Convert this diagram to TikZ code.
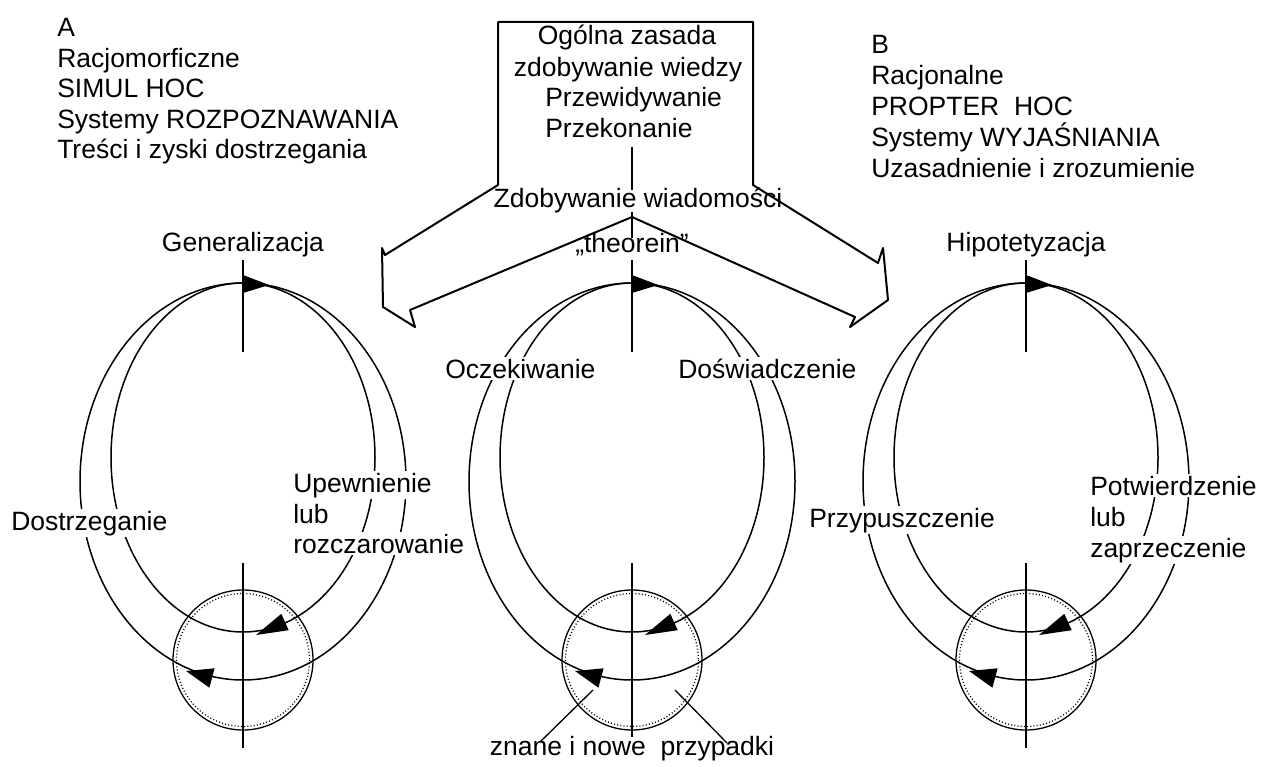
\documentclass[tikz,border=0pt]{standalone}
\usepackage{fontspec}
\setmainfont{Liberation Sans}
\begin{document}
\begin{tikzpicture}[x=1pt,y=-1pt,line width=1.5pt,
  lbl/.style={font=\fontsize{26.5}{31}\selectfont,inner sep=1.5pt},
  wlbl/.style={lbl,fill=white},
  loopline/.style={line width=1.5pt},
  ring/.style={line width=1.3pt},
  ringdots/.style={line width=1.3pt,dash pattern=on 1pt off 2.2pt},
  bigarrow/.style={line width=2pt,line join=round}]
\useasboundingbox (0,0) rectangle (1263,767);

% cycles
\foreach \ax/\ab/\nm in {243/748/L,632/737/C,1026/748/R}{
  \begin{scope}[shift={(\ax,0)}]
    \draw[loopline] (0,457.5) ellipse [x radius=132,y radius=174.5];
    \draw[loopline] (0,481.5) ellipse [x radius=163,y radius=198.5];
    \coordinate (top\nm) at (0,260);
    \coordinate (topend\nm) at (0,352);
    \draw (top\nm) -- (topend\nm);
    \node[circle,draw,ring,minimum size=140pt,inner sep=0pt] (c\nm) at (0,660) {};
    \draw[ringdots] (0,660) circle [radius=66.5];
    \coordinate (bot\nm) at (0,563);
    \coordinate (botend\nm) at (0,\ab);
    \draw (bot\nm) -- (botend\nm);
    \fill (0,275) -- (26,285) -- (0,293) -- cycle;
    \fill (13,635) -- (45.7,630.2) -- (38.3,613.8) -- cycle;
    \fill (-57,671) -- (-28.4,668.3) -- (-33.6,687.7) -- cycle;
  \end{scope}
}

% central box with two broad arrows
\draw[bigarrow] (498,22) -- (753,22) -- (753,185) -- (878,263) -- (883,248)
  -- (888,300) -- (850,327) -- (855,317) -- (632,217) -- (410,310)
  -- (415,327) -- (383,307) -- (382,248) -- (385,255) -- (498,185) -- cycle;

\node[lbl,anchor=base] (b1) at (627,45) {Ogólna zasada};
\node[lbl,anchor=base] (b2) at (628,77) {zdobywanie wiedzy};
\node[lbl,anchor=base west] (b3) at (543,107) {Przewidywanie};
\node[lbl,anchor=base west] (b4) at (543,138) {Przekonanie};
\coordinate (v1) at (632,147);
\coordinate (v2) at (632,190);
\draw (v1) -- (v2);
\node[lbl,anchor=base] (zw) at (638,208) {Zdobywanie wiadomości};
\coordinate (n1) at (632,212);
\coordinate (n2) at (632,238);
\draw (n1) -- (n2);

% left text block
\foreach \t [count=\i from 0] in {A,Racjomorficzne,SIMUL HOC,Systemy ROZPOZNAWANIA,Treści i zyski dostrzegania}
  \node[lbl,anchor=base west] (la\i) at (55,37+30.5*\i) {\t};
% right text block
\foreach \t [count=\i from 0] in {B,Racjonalne,PROPTER\ \ HOC,Systemy WYJAŚNIANIA,Uzasadnienie i zrozumienie}
  \node[lbl,anchor=base west] (rb\i) at (869,54+30.8*\i) {\t};

% labels on cycles
\node[lbl,anchor=base] (gen) at (243,252) {Generalizacja};
\node[lbl,anchor=base] (the) at (632,253) {„theorein”};
\node[lbl,anchor=base] (hip) at (1026,252) {Hipotetyzacja};

\node[wlbl,anchor=base west] (dos) at (9,530) {Dostrzeganie};
\node[wlbl,anchor=base west] (up1) at (291,492) {Upewnienie};
\node[wlbl,anchor=base west] (up2) at (291,523) {lub};
\node[wlbl,anchor=base west] (up3) at (291,553) {rozczarowanie};

\node[wlbl,anchor=base west] (ocz) at (443,378) {Oczekiwanie};
\node[wlbl,anchor=base west] (dsw) at (676,378) {Doświadczenie};

\node[wlbl,anchor=base west] (prz) at (807,527) {Przypuszczenie};
\node[wlbl,anchor=base west] (po1) at (1088,495) {Potwierdzenie};
\node[wlbl,anchor=base west] (po2) at (1088,526) {lub};
\node[wlbl,anchor=base west] (po3) at (1088,557) {zaprzeczenie};

\node[lbl,anchor=base] (zn) at (632,755) {znane i nowe\ \ przypadki};
\coordinate (zl) at (540,742);
\coordinate (zr) at (727,743);
\coordinate (cl) at (593,690);
\coordinate (cr) at (675,690);
\draw[line width=1.3pt] (zl) -- (cl);
\draw[line width=1.3pt] (zr) -- (cr);
\end{tikzpicture}
\end{document}
